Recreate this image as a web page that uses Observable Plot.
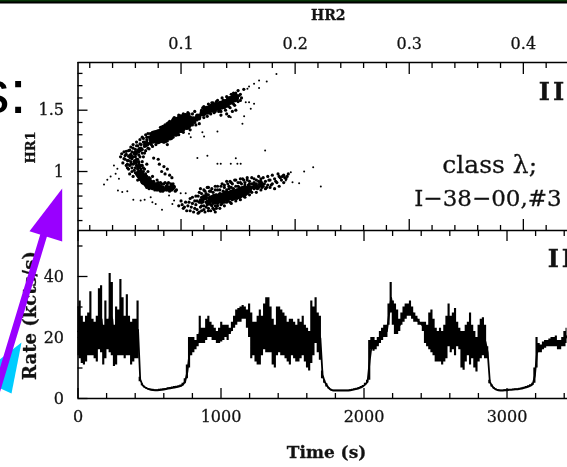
<!DOCTYPE html>
<html>
<head>
<meta charset="utf-8">
<script src="https://cdn.jsdelivr.net/npm/d3@7"></script>
<script src="https://cdn.jsdelivr.net/npm/@observablehq/plot@0.6"></script>
<style>
html,body{margin:0;padding:0;background:#fff;}
#stage{position:relative;width:567px;height:467px;overflow:hidden;background:#fff;}
#stage>svg{position:absolute;left:0;}
#strip{position:absolute;left:0;top:0;width:567px;height:4px;
 background:linear-gradient(#0a3d0a 0,#063006 1px,#000 2px,#000 3px,#fff 4px);}
</style>
</head>
<body>
<div id="stage"><div id="strip"></div></div>
<script>
// ---- tick values
const hr2Major=[0.1,0.2,0.3,0.4];
const hr2Minor=[0.02,0.04,0.06,0.08,0.12,0.14,0.16,0.18,0.22,0.24,0.26,0.28,0.32,0.34,0.36,0.38,0.42];
const hr1Major=[1,1.5];
const hr1Minor=[0.6,0.7,0.8,0.9,1.1,1.2,1.3,1.4,1.6,1.7,1.8];
const timeMajor=[0,1000,2000,3000];
const timeMinor=[200,400,600,800,1200,1400,1600,1800,2200,2400,2600,2800,3200,3400];
const rateMajor=[0,20,40];
const rateMinor=[10,30,50];

// ---- colour-colour diagram [HR2, HR1]: dense cores, by dot size
const upperCore=[[.078,1.285],[.082,1.295],[.086,1.31],[.09,1.335],[.094,1.36],[.098,1.385],[.102,1.405],[.106,1.41]];
const upperEdgeCore=[[.085,1.345],[.09,1.375],[.095,1.41],[.1,1.43],[.104,1.44],[.08,1.26],[.085,1.265],[.09,1.29],[.095,1.32],[.1,1.35],[.105,1.375]];
const upperBridgeCore=[[.111,1.425],[.115,1.445],[.119,1.475]];
const upperLeftCore=[[.056,1.12],[.06,1.15],[.064,1.18],[.069,1.22],[.074,1.255],[.06,1.08],[.063,1.04]];
const upperRightCore=[[.123,1.50],[.127,1.515],[.131,1.53],[.135,1.54],[.139,1.555],[.143,1.58],[.147,1.60]];
const lowerLeftCore=[[.064,.98],[.066,.95],[.068,.925],[.071,.90],[.074,.89],[.079,.875]];
const lowerTailCore=[[.083,.865],[.088,.865],[.092,.87],[.118,.76],[.124,.75],[.121,.79],[.126,.78],[.16,.865],[.165,.88],[.17,.895]];
const lowerBlobCore=[[.13,.775],[.135,.785],[.14,.80],[.145,.81],[.15,.82],[.155,.84]];
// individual points
const upperArmDots=[[.048,1.145],[.050,1.105],[.051,1.13],[.052,1.165],[.053,1.09],[.054,1.125],[.055,1.175],[.056,1.14],[.057,1.105],[.058,1.19],[.059,1.15],[.060,1.12],[.061,1.21],[.062,1.17],[.063,1.135],[.064,1.225],[.065,1.19],[.066,1.15],[.067,1.24],[.068,1.205],[.069,1.17],[.070,1.26],[.071,1.22],[.072,1.185],[.073,1.27],[.074,1.235],[.075,1.205],[.076,1.285],[.077,1.25],[.078,1.22],[.079,1.25],[.080,1.33],[.082,1.36],[.086,1.38],[.09,1.41],[.094,1.44],[.098,1.46],[.102,1.47],[.106,1.48],[.11,1.47],[.112,1.49],[.116,1.46],[.118,1.50],[.12,1.44],[.085,1.24],[.088,1.25],[.09,1.27],[.093,1.28],[.096,1.30],[.098,1.30],[.1,1.33],[.102,1.32],[.105,1.36],[.108,1.34],[.11,1.38],[.112,1.40],[.114,1.42],[.116,1.39],[.118,1.47],[.12,1.53],[.122,1.49],[.124,1.55],[.126,1.47],[.128,1.56],[.13,1.49],[.132,1.58],[.134,1.50],[.136,1.60],[.138,1.52],[.14,1.61],[.142,1.53],[.144,1.63],[.146,1.55],[.148,1.64],[.15,1.57],[.152,1.63],[.153,1.60],[.135,1.46],[.14,1.47],[.145,1.49],[.148,1.50],[.142,1.45],[.155,1.67]];
const upperArmExtra=[[.047,1.12],[.049,1.07],[.05,1.16],[.051,1.10],[.052,1.14],[.053,1.06],[.054,1.17],[.054,1.09],[.055,1.13],[.056,1.20],[.056,1.08],[.057,1.16],[.058,1.12],[.058,1.22],[.059,1.07],[.06,1.18],[.06,1.14],[.061,1.24],[.061,1.10],[.062,1.21],[.063,1.08],[.063,1.16],[.064,1.26],[.064,1.12],[.065,1.22],[.065,1.05],[.066,1.28],[.066,1.18],[.067,1.12],[.067,1.27],[.068,1.24],[.068,1.15],[.069,1.30],[.069,1.21],[.07,1.28],[.07,1.24],[.071,1.31],[.071,1.19],[.072,1.28],[.072,1.23],[.073,1.31],[.073,1.26],[.074,1.29],[.074,1.22],[.075,1.27],[.075,1.32],[.076,1.24],[.077,1.32],[.077,1.28],[.078,1.24],[.079,1.33],[.119,1.52],[.121,1.47],[.123,1.45],[.125,1.53],[.127,1.56],[.129,1.48],[.131,1.57],[.133,1.49],[.135,1.49],[.137,1.58],[.139,1.50],[.141,1.59],[.143,1.52],[.145,1.60],[.147,1.54],[.149,1.62],[.151,1.62],[.152,1.58],[.15,1.66],[.146,1.64],[.114,1.46],[.116,1.43],[.113,1.38],[.11,1.42],[.107,1.47],[.104,1.46],[.1,1.45],[.09,1.40],[.088,1.22]];
const lowerLeftDots=[[.052,1.05],[.054,1.02],[.055,.98],[.056,1.06],[.057,1.0],[.058,.96],[.059,1.08],[.06,1.03],[.061,.98],[.062,1.10],[.062,.93],[.063,1.05],[.064,1.0],[.065,.95],[.066,1.08],[.066,.91],[.067,1.03],[.068,.97],[.069,.92],[.07,1.06],[.07,.89],[.071,1.0],[.072,.95],[.073,.90],[.074,.87],[.075,.96],[.076,.92],[.077,.88],[.078,.86],[.079,.93],[.08,.89],[.081,.85],[.082,.91],[.083,.87],[.084,.84],[.085,.90],[.086,.86],[.087,.88],[.088,.85],[.089,.91],[.09,.87],[.091,.85],[.092,.89],[.093,.86],[.094,.88],[.095,.84],[.083,1.0],[.086,.98],[.085,1.04],[.081,1.06],[.08,1.1],[.076,1.11],[.09,.97],[.092,.95],[.088,1.02]];
const lowerLeftExtra=[[.053,1.03],[.055,1.05],[.057,1.03],[.058,1.06],[.059,1.01],[.06,1.07],[.06,.99],[.061,1.05],[.062,1.02],[.062,.97],[.063,1.07],[.063,.99],[.064,1.04],[.064,.94],[.065,1.02],[.065,.98],[.066,1.05],[.067,1.0],[.067,.93],[.068,1.02],[.068,.90],[.069,.98],[.07,.96],[.07,.87],[.071,.93],[.072,.86],[.073,.94],[.074,.92],[.075,.86],[.076,.90],[.077,.85],[.078,.90],[.079,.85],[.08,.91],[.081,.88],[.082,.84],[.083,.90],[.084,.87],[.085,.85],[.086,.91],[.087,.85],[.088,.90],[.089,.86],[.09,.84],[.091,.90],[.092,.85],[.093,.90],[.094,.87],[.096,.85]];
const lowerBlobDots=[[.098,.72],[.100,.76],[.102,.70],[.104,.75],[.106,.72],[.108,.68],[.108,.78],[.110,.74],[.112,.70],[.113,.80],[.114,.76],[.116,.67],[.116,.83],[.118,.72],[.118,.79],[.120,.69],[.120,.85],[.122,.75],[.122,.82],[.124,.68],[.124,.87],[.126,.73],[.126,.84],[.128,.70],[.128,.80],[.130,.67],[.130,.88],[.132,.74],[.132,.85],[.134,.70],[.134,.82],[.136,.77],[.136,.90],[.138,.72],[.138,.87],[.14,.75],[.14,.92],[.142,.78],[.142,.88],[.144,.74],[.144,.91],[.146,.79],[.146,.86],[.148,.76],[.148,.93],[.15,.80],[.15,.88],[.152,.77],[.152,.91],[.154,.82],[.154,.94],[.156,.79],[.156,.89],[.158,.84],[.158,.93],[.16,.81],[.16,.90],[.162,.83],[.162,.95],[.164,.86],[.164,.91],[.166,.83],[.166,.93],[.168,.87],[.168,.96],[.17,.85],[.17,.92],[.172,.88],[.172,.95],[.174,.86],[.174,.92],[.176,.89],[.176,.96],[.178,.87],[.178,.93],[.18,.90],[.18,.97],[.182,.86],[.182,.94],[.184,.91],[.186,.88],[.186,.96],[.188,.93],[.19,.97],[.192,.94],[.19,.91],[.194,.98],[.185,.98]];
const lowerBlobExtra=[[.101,.73],[.103,.71],[.105,.68],[.107,.75],[.109,.71],[.11,.79],[.111,.67],[.112,.76],[.113,.73],[.114,.69],[.115,.80],[.115,.66],[.116,.75],[.117,.71],[.117,.86],[.118,.68],[.118,.82],[.119,.76],[.12,.72],[.12,.80],[.121,.67],[.121,.84],[.122,.71],[.122,.78],[.123,.73],[.123,.87],[.124,.70],[.124,.81],[.125,.76],[.125,.84],[.126,.68],[.126,.79],[.127,.72],[.127,.86],[.128,.74],[.128,.83],[.129,.69],[.129,.78],[.13,.72],[.13,.85],[.131,.81],[.131,.70],[.132,.72],[.132,.88],[.133,.75],[.134,.85],[.135,.73],[.135,.88],[.136,.74],[.137,.84],[.138,.75],[.138,.89],[.139,.77],[.14,.85],[.141,.76],[.141,.90],[.142,.86],[.143,.75],[.143,.92],[.144,.87],[.145,.77],[.145,.90],[.146,.84],[.147,.78],[.147,.93],[.148,.88],[.149,.78],[.15,.91],[.151,.79],[.151,.87],[.152,.94],[.153,.80],[.153,.90],[.154,.87],[.155,.80],[.155,.93],[.156,.91],[.157,.82],[.157,.87],[.158,.95],[.159,.83],[.159,.89],[.16,.92],[.161,.84],[.162,.90],[.163,.87],[.164,.94],[.165,.87],[.166,.90],[.167,.86],[.168,.92],[.169,.89],[.17,.94],[.171,.87],[.173,.90],[.175,.87],[.177,.93],[.179,.89],[.183,.92],[.187,.95],[.189,.96],[.191,.95],[.193,.96]];
const strayDots=[[.0325,.894],[.0354,.932],[.0383,.959],[.0412,1.049],[.0442,1.022],[.0427,.981],[.0456,.94],[.0447,.845],[.0485,.832],[.0529,.84],[.0582,.769],[.0646,.764],[.0681,.769],[.0734,.791],[.0749,.75],[.0778,.736],[.0833,.6875],[.0895,.804],[.0939,.764],[.0924,.736],[.0997,.823],[.1041,.823],[.1143,1.111],[.1231,1.128],[.1319,1.0625],[.1348,1.0625],[.1436,1.0625],[.148,1.109],[.1494,1.0625],[.1523,1.0625],[.1737,1.171],[.1319,1.326],[.1202,1.285],[.1187,1.32],[.107,1.307],[.1085,1.28],[.1538,1.389],[.1553,1.451],[.1436,1.443],[.1348,1.457],[.1567,1.565],[.1596,1.565],[.164,1.552],[.1611,1.511],[.1582,1.674],[.164,1.715],[.1684,1.742],[.1751,1.734],[.1836,1.796],[.1684,1.682],[.1596,1.693],[.15,1.66],[.1889,.967],[.1962,.995],[.1977,.913],[.2035,.905],[.2079,1],[.2158,1.035],[.2225,.878],[.1918,.927]];

// ---- light curve: [time (s), upper rate, lower rate] (kcts/s)
const lightCurve=[[0,30,14],[15,32,13],[30,27,11.5],[45,25,11],[60,27,12],[75,28,14],[90,35,14],[105,26,14],[120,25,13],[135,27,12],[150,36,16],[165,37,15],[180,24,11],[195,32,13],[210,26,16],[225,41,15],[240,38,14],[255,24,10.5],[270,30,11],[285,29,14],[300,39,14],[315,33,14],[330,27,13],[345,34,14],[360,27,14],[375,25,11],[390,26,12],[405,26,13],[420,32,13],
[435,7,5.5],[450,4.8,4.2],[465,4,3.5],[480,3.6,3.1],[495,3.3,2.8],[510,3.1,2.6],[525,3,2.5],[540,2.9,2.4],[555,2.9,2.4],[570,3,2.5],[585,3.1,2.6],[600,3.2,2.7],[615,3.3,2.8],[630,3.5,3],[645,3.6,3.1],[660,3.8,3.2],[675,3.9,3.3],[690,4,3.4],[705,4.2,3.6],[720,4.4,3.8],[735,5,4.2],[750,6.5,4.8],[765,11,6.5],[780,20,10],
[795,20,14],[810,20,15],[825,19,16],[840,21,17],[855,27,18],[870,23,18],[885,23,18],[900,26,19],[915,27,20],[930,25,20],[945,24,19],[960,23,19],[975,22,18],[990,23,18],[1005,25,18.5],[1020,24,19],[1035,24,20],[1050,24,19],[1065,23,21],[1080,25,22],[1095,27,23],[1110,29,24],[1125,29.5,25],[1140,30,25],[1155,30.5,26],[1170,30,26],[1185,29,23],[1200,31,20],[1215,28,13],[1230,25,14],[1245,25,12],[1260,27,11],[1275,29,11],[1290,27,14],[1305,31,16],[1320,33,15],[1335,33,15],[1350,30,15],[1365,26,11],[1380,24,10],[1395,30,14],[1410,30,15],[1425,29,14],[1440,28,14],[1455,27,13],[1470,25,12],
[1485,26,11],[1500,26,14],[1515,25,13],[1530,24,12],[1545,26,12],[1560,25,13],[1575,27,14],[1590,24,12],[1605,23,10],[1620,22,9],[1635,32,11.5],[1650,30,14],[1665,33,18],[1680,28,15],[1695,27,12.5],[1710,9,6.5],[1725,6,5],[1740,4.8,3.8],[1755,3.6,3.1],[1770,3,2.6],[1785,2.8,2.4],[1800,2.8,2.4],[1815,2.8,2.4],[1830,2.8,2.4],[1845,2.8,2.4],[1860,2.8,2.4],[1875,2.8,2.4],[1890,2.8,2.4],[1905,2.9,2.5],[1920,3,2.6],[1935,3.2,2.8],[1950,3.4,2.9],[1965,3.6,3.1],[1980,3.9,3.4],[1995,4.3,3.8],[2010,5,4.3],[2025,6,5],[2040,19,6],
[2055,20,16],[2070,20,15.5],[2085,19,16],[2100,20,17],[2115,22,18],[2130,23,19],[2145,24,20],[2160,24,20],[2175,31,24],[2190,38,28],[2205,32,24],[2220,31,21],[2235,29,21],[2250,26,22],[2265,28,24],[2280,30,25],[2295,31,26],[2310,31,27],[2325,32,27],[2340,30,26],[2355,28,25],[2370,27,25],[2385,26,24],[2400,25,24],[2415,25,22],[2430,25,18],[2445,24,17],[2460,28,16],[2475,29,15],[2490,26,14],[2505,23,12],[2520,22,12],[2535,23,12],[2550,22,11],[2565,24,12],[2580,27,13],[2595,31,17],[2610,27,15],[2625,28,16],[2640,29.5,14],[2655,25,17],[2670,23,16],[2685,22,10],[2700,22,9.3],[2715,24,12],[2730,25,14],[2745,28,11],[2760,24,13],[2775,22,10],[2790,20,8.7],[2805,24,12],[2820,26,13],[2835,26.5,14],[2850,24,13],[2865,17,13],
[2880,6,4.8],[2895,4.5,3.8],[2910,3.6,3.1],[2925,3.1,2.7],[2940,2.9,2.5],[2955,2.8,2.4],[2970,2.8,2.4],[2985,2.9,2.5],[3000,2.9,2.5],[3015,3,2.6],[3030,3,2.6],[3045,3.1,2.7],[3060,3.2,2.8],[3075,3.2,2.8],[3090,3.4,2.9],[3105,3.5,3],[3120,3.7,3.2],[3135,3.9,3.4],[3150,4.2,3.6],[3165,4.5,3.9],[3180,5,4.3],[3195,10,5],[3210,20,10],[3225,18,15],[3240,17.5,15],[3255,18.5,16],[3270,19,16.5],[3285,19,17],[3300,19.5,17],[3315,20,17],[3330,20,17],[3345,20.5,17],[3360,19,16],[3375,19,16],[3390,20,17],[3405,22,17],[3420,23,18]];

// ---- annotation shapes of the slide behind the figure (page pixels)
const cyanShape=[[21,342],[11,393],[-2,387],[-2,360]];
const purpleShaft=[[44,232],[-4,391]];
const purpleHead=[[61.7,188],[29,230.7],[61.7,241]];

const serif="'DejaVu Serif','Liberation Serif',serif";
const blur="blur(0.45px)";
const tickW=1.3;
function axes(fnAxis,major,minor,anchor,majSize,minSize,labels,opts={}){
  const out=[
    fnAxis(major,{anchor,tickSize:-majSize,fill:"none",label:null,strokeWidth:tickW}),
    fnAxis(minor,{anchor,tickSize:-minSize,fill:"none",label:null,strokeWidth:tickW})
  ];
  if(labels) out.push(fnAxis(major,{anchor,tickSize:0,label:null,fontFamily:serif,fontSize:16,fill:"#111",...opts}));
  return out;
}
const tStyle={fontFamily:serif,fill:"#111"};
const dotsOf=(list,r)=>Plot.dot(list,{x:"0",y:"1",r,fill:"black",stroke:"none"});

// ---- top panel
const topPanel=Plot.plot({
  width:567,height:240,marginLeft:77.5,marginRight:0,marginTop:62,marginBottom:10,
  style:{background:"transparent",overflow:"visible"},
  x:{domain:[0.0097,0.4387]},
  y:{domain:[0.519,1.889]},
  marks:[
    dotsOf(upperCore,6.5), dotsOf(upperEdgeCore,4.5), dotsOf(upperBridgeCore,3.2), dotsOf(upperLeftCore,2.6), dotsOf(upperRightCore,4.5),
    dotsOf(lowerLeftCore,4.5), dotsOf(lowerTailCore,3), dotsOf(lowerBlobCore,5.5),
    dotsOf(upperArmDots,1.6), dotsOf(upperArmExtra,1.6),
    dotsOf(lowerLeftDots,1.6), dotsOf(lowerLeftExtra,1.6),
    dotsOf(lowerBlobDots,1.6), dotsOf(lowerBlobExtra,1.6),
    dotsOf(strayDots,1),
    Plot.ruleY([1.889],{strokeWidth:1.6}),
    Plot.ruleX([0.0097],{strokeWidth:1.6}),
    ...axes(Plot.axisX,hr2Major,hr2Minor,"top",11,5,true,{tickPadding:14,tickFormat:d=>d.toFixed(1)}),
    ...axes(Plot.axisX,hr2Major,hr2Minor,"bottom",11,5,false),
    ...axes(Plot.axisY,hr1Major,hr1Minor,"left",10,5,true,{tickPadding:14,tickFormat:d=>String(d)}),
    Plot.text(["HR2"],{x:[0.229],y:[2.272],text:d=>d,fontSize:14,fontWeight:"bold",...tStyle}),
    Plot.text(["HR1"],{x:[-0.032],y:[1.196],text:d=>d,rotate:-90,fontSize:13,fontWeight:"bold",...tStyle}),
    Plot.text(["III"],{x:[0.4136],y:[1.645],text:d=>d,fontSize:24,fontWeight:"bold",...tStyle,textAnchor:"start"}),
    Plot.text(["class λ;"],{x:[0.3705],y:[1.05],text:d=>d,fontSize:25,...tStyle}),
    Plot.text(["I−38−00,#3"],{x:[0.369],y:[0.78],text:d=>d,fontSize:23,...tStyle})
  ]
});
topPanel.style.top="0px";topPanel.style.filter=blur;

// ---- bottom panel
const bottomPanel=Plot.plot({
  width:567,height:247,marginLeft:77.5,marginRight:0,marginTop:10,marginBottom:69,
  style:{background:"transparent",overflow:"visible"},
  x:{domain:[0,3423]},
  y:{domain:[0,55.08]},
  marks:[
    Plot.areaY(lightCurve,{x:"0",y1:"1",y2:"2",fill:"black",curve:"step"}),
    Plot.line(lightCurve,{x:"0",y:d=>(d[1]+d[2])/2,stroke:"black",strokeWidth:1.8}),
    Plot.ruleY([55.08,0],{strokeWidth:1.6}),
    Plot.ruleX([0],{strokeWidth:1.6}),
    ...axes(Plot.axisX,timeMajor,timeMinor,"top",10,5,false),
    ...axes(Plot.axisX,timeMajor,timeMinor,"bottom",10,5,true,{tickPadding:12,tickFormat:d=>String(d)}),
    ...axes(Plot.axisY,rateMajor,rateMinor,"left",10,5,true,{tickPadding:14,tickFormat:d=>String(d)}),
    Plot.text(["Time (s)"],{x:[1738],y:[-17.7],text:d=>d,fontSize:17,fontWeight:"bold",...tStyle}),
    Plot.text(["Rate (kcts/s)"],{x:[-332],y:[27.2],text:d=>d,rotate:-90,fontSize:18,fontWeight:"bold",...tStyle}),
    Plot.text(["II"],{x:[3285],y:[45.7],text:d=>d,fontSize:24,fontWeight:"bold",...tStyle,textAnchor:"start"})
  ]
});
bottomPanel.style.top="220px";bottomPanel.style.filter=blur;

// panel numerals sit with wider spacing; tick labels are heavier
for(const panel of [topPanel,bottomPanel]){
  d3.select(panel).selectAll("text").style("stroke","#222").style("stroke-width","0.3px");
  d3.select(panel).selectAll("text").filter(function(){return /^I+$/.test(this.textContent);}).style("letter-spacing","2.8px");
}

// ---- slide annotations overlaid on the figure
const overlay=Plot.plot({
  width:567,height:467,margin:0,
  style:{background:"transparent"},
  x:{domain:[0,567],range:[0,567],axis:null},
  y:{domain:[0,467],range:[0,467],axis:null},
  marks:[
    Plot.text(["s:"],{x:[26.3],y:[112],text:d=>d,fontSize:62,fontFamily:"'Liberation Sans',sans-serif",fill:"black",textAnchor:"end",lineAnchor:"bottom"}),
    Plot.line(cyanShape,{x:"0",y:"1",fill:"#00ccff",stroke:"none",curve:"linear-closed"}),
    Plot.line(purpleShaft,{x:"0",y:"1",stroke:"#9900ff",strokeWidth:7}),
    Plot.line(purpleHead,{x:"0",y:"1",fill:"#9900ff",stroke:"none",curve:"linear-closed"})
  ]
});
overlay.style.top="0px";
const stage=document.getElementById("stage");
stage.append(topPanel,bottomPanel,overlay);
</script>
</body>
</html>
